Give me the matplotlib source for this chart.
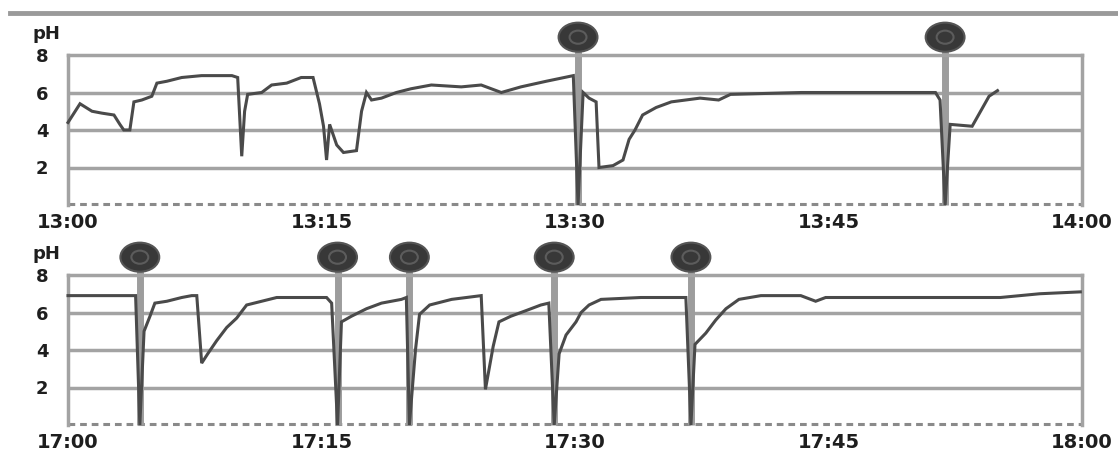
import matplotlib
matplotlib.use("Agg")
import matplotlib.pyplot as plt
from matplotlib.patches import Ellipse
from matplotlib.lines import Line2D

# ---------------- data ----------------
top_labels = ["13:00", "13:15", "13:30", "13:45", "14:00"]
bottom_labels = ["17:00", "17:15", "17:30", "17:45", "18:00"]
tick_minutes = [0, 15, 30, 45, 60]
ph_ticks = [2, 4, 6, 8]

top_t = [0.0, 0.71, 1.42, 2.0, 2.72, 3.07, 3.3, 3.66, 3.9, 4.37, 4.96, 5.26, 5.85,
         6.73, 7.9, 9.7, 10.04, 10.28, 10.45, 10.63, 11.46, 12.05, 12.94, 13.8,
         14.5, 14.88, 15.12, 15.3, 15.48, 15.9, 16.3, 17.07, 17.37, 17.66, 17.96,
         18.55, 19.43, 20.3, 21.5, 23.27, 24.45, 25.64, 26.8, 28.3, 29.9, 30.18,
         30.48, 30.83, 31.25, 31.42, 32.25, 32.84, 33.2, 33.55, 34.0, 34.8, 35.7,
         37.4, 38.5, 39.2, 43.4, 51.33, 51.6, 51.9, 52.2, 53.5, 54.5, 55.0]
top_ph = [4.4, 5.4, 5.0, 4.9, 4.8, 4.3, 4.0, 4.0, 5.5, 5.6, 5.8, 6.5, 6.6,
          6.8, 6.9, 6.9, 6.8, 2.6, 5.0, 5.9, 6.0, 6.4, 6.5, 6.8,
          6.8, 5.4, 4.2, 2.4, 4.3, 3.2, 2.8, 2.9, 5.0, 6.0, 5.6,
          5.7, 6.0, 6.2, 6.4, 6.3, 6.4, 6.0, 6.3, 6.6, 6.9, 0.0,
          6.0, 5.7, 5.5, 2.0, 2.1, 2.4, 3.5, 4.0, 4.8, 5.2, 5.5,
          5.7, 5.6, 5.9, 6.0, 6.0, 5.6, 0.0, 4.3, 4.2, 5.8, 6.1]
top_events = [30.18, 51.9]

bottom_t = [0.0, 3.78, 4.0, 4.25, 4.5, 4.85, 5.14, 5.85, 6.73, 7.32, 7.62, 7.91,
            8.27, 8.8, 9.39, 9.98, 10.57, 11.46, 12.35, 15.3, 15.6, 15.95, 16.18,
            16.77, 17.66, 18.55, 19.73, 20.02, 20.2, 20.56, 20.8, 21.4, 22.7,
            24.45, 24.7, 25.16, 25.5, 26.2, 27.1, 27.98, 28.45, 28.77, 29.06,
            29.47, 30.06, 30.36, 30.83, 31.54, 33.9, 36.56, 36.86, 37.1, 37.74,
            38.33, 38.93, 39.7, 41.0, 43.36, 44.24, 44.83, 49.26, 55.17, 57.5, 59.9]
bottom_ph = [6.9, 6.9, 6.9, 0.0, 5.0, 5.8, 6.5, 6.6, 6.8, 6.9, 6.9, 3.3,
             3.8, 4.5, 5.2, 5.7, 6.4, 6.6, 6.8, 6.8, 6.5, 0.0, 5.5,
             5.8, 6.2, 6.5, 6.7, 6.8, 0.0, 4.0, 5.9, 6.4, 6.7,
             6.9, 1.9, 4.2, 5.5, 5.8, 6.1, 6.4, 6.5, 0.0, 3.8,
             4.8, 5.5, 6.0, 6.4, 6.7, 6.8, 6.8, 0.0, 4.3, 4.9,
             5.6, 6.2, 6.7, 6.9, 6.9, 6.6, 6.8, 6.8, 6.8, 7.0, 7.1]
bottom_events = [4.25, 15.95, 20.2, 28.77, 36.86]

# ---------------- layout ----------------
W, H = 1118, 453
fig = plt.figure(figsize=(W / 100, H / 100), dpi=100)
fig.patch.set_facecolor("white")

GRID = "#a3a3a3"
TRACE = "#4a4a4a"
TXT = "#1e1e1e"

# top decorative line
fig.add_artist(Line2D([10 / W, 1.0], [1 - 13 / H, 1 - 13 / H],
                      transform=fig.transFigure, color="#9a9a9a", lw=3.5))


def make_panel(y_top_px, y_bot_px, t, ph, events, labels):
    left, right = 68, 1082
    ax = fig.add_axes([left / W, 1 - y_bot_px / H, (right - left) / W,
                       (y_bot_px - y_top_px) / H])
    ax.set_xlim(0, 60)
    ax.set_ylim(0, 8)
    ax.set_facecolor("white")
    for s in ["left", "right", "top"]:
        ax.spines[s].set_color(GRID)
        ax.spines[s].set_linewidth(2.5)
    ax.spines["bottom"].set_visible(False)
    for g in [2, 4, 6]:
        ax.axhline(g, color=GRID, lw=2.5, zorder=1)
    ax.axhline(0.05, color="#8a8a8a", lw=2.2, ls=(0, (2.2, 1.6)), zorder=1,
               clip_on=False)

    ax.set_xticks(tick_minutes)
    ax.set_xticklabels(labels)
    ax.set_yticks(ph_ticks)
    ax.set_yticklabels([str(v) for v in ph_ticks])
    ax.tick_params(axis="x", length=0, pad=6, labelsize=14, labelcolor=TXT)
    ax.tick_params(axis="y", length=0, pad=14, labelsize=13, labelcolor=TXT)
    for lab in ax.get_xticklabels() + ax.get_yticklabels():
        lab.set_fontweight("bold")

    ax.text(-0.035, 9.1, "pH", transform=ax.get_yaxis_transform(),
            ha="left", va="center", fontsize=13, fontweight="bold",
            color=TXT, clip_on=False)

    # event markers
    for e in events:
        ax.vlines(e, 0, 8.9, color="#9d9d9d", lw=5, zorder=2, clip_on=False)
        ax.add_patch(Ellipse((e, 8.95), 2.3, 1.55, facecolor="#383838",
                             edgecolor="#555555", lw=1.5, zorder=5,
                             clip_on=False))
        ax.add_patch(Ellipse((e, 8.95), 1.0, 0.7, facecolor="none",
                             edgecolor="#5c5c5c", lw=1.5, zorder=6,
                             clip_on=False))

    ax.plot(t, ph, color=TRACE, lw=2.2, zorder=4, clip_on=False,
            solid_joinstyle="miter")
    return ax


make_panel(55, 205, top_t, top_ph, top_events, top_labels)
make_panel(275, 425, bottom_t, bottom_ph, bottom_events, bottom_labels)

fig.savefig("out.png", dpi=100, facecolor="white")
